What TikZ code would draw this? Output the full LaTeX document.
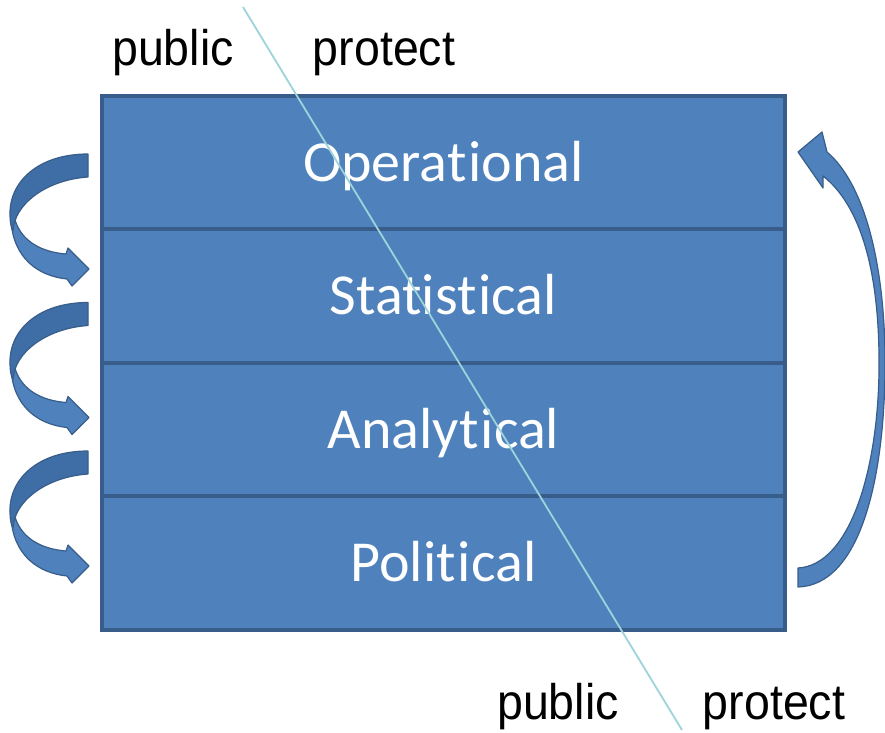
\documentclass[tikz,border=0pt]{standalone}
\usepackage{fontspec}
\setmainfont{Carlito}[RawFeature={-liga;-clig;-dlig;-calt}]
\newfontfamily\arialfont{Liberation Sans}
\newcommand{\tiword}{t\kern2pt i}
\definecolor{boxfill}{HTML}{4F81BD}
\definecolor{boxline}{HTML}{385D8A}
\definecolor{darkband}{HTML}{3F6DA6}
\definecolor{diag}{HTML}{9DD3DA}
\begin{document}
\begin{tikzpicture}[x=1pt,y=-1pt,
  layer/.style={draw=boxline, line width=4pt, fill=boxfill, minimum width=683pt,
    minimum height=133.4pt, inner sep=0pt, outer sep=0pt, text=white,
    text height=37pt, text depth=0pt, font=\fontsize{58}{60}\selectfont},
  lbl/.style={anchor=base, inner sep=0pt, font=\arialfont\fontsize{50}{54}\selectfont},
  arr/.style={fill=boxfill, draw=boxline, line width=1.2pt, line join=round},
  arrdark/.style={fill=darkband, draw=boxline, line width=1.2pt, line join=round},
  diagline/.style={draw=diag, line width=1.8pt}]
\useasboundingbox (0,0) rectangle (885,732);

% stacked layers
\node[layer] (op) at (443.5,162.7) {Opera\tiword onal};
\node[layer] (st) at (443.5,296.1) {Statis\tiword cal};
\node[layer] (an) at (443.5,429.5) {Analy\tiword cal};
\node[layer] (po) at (443.5,562.9) {Poli\tiword cal};

% left curved arrows
\foreach \dy in {0,148.5,297}{
  \begin{scope}[shift={(0,\dy)}]
    \path[arr] (11,220) .. controls (13,258) and (38,276) .. (67,279)
      -- (72,286) -- (89,269) -- (68,248) -- (66,254)
      .. controls (42,252) and (22,242) .. (15,220) -- cycle;
    \path[arrdark] (88,154) .. controls (38,154) and (9,182) .. (10,215)
      .. controls (10,222) and (11,227) .. (13,231)
      .. controls (14,205) and (45,180) .. (88,177) -- cycle;
  \end{scope}
}

% right curved arrow
\path[arr] (798,568) .. controls (850,565) and (878,470) .. (879,370)
  .. controls (880,270) and (860,205) .. (823,176)
  -- (823,188) -- (798,152) -- (822,132) -- (827,152)
  .. controls (866,185) and (886,270) .. (885,370)
  .. controls (884,480) and (860,585) .. (798,587) -- cycle;

% labels
\node[lbl] (pubtop) at (173,65) {\scalebox{0.93}[1]{public}};
\node[lbl] (prottop) at (384,65) {\scalebox{0.93}[1]{protect}};
\node[lbl] (pubbot) at (558,719) {\scalebox{0.93}[1]{public}};
\node[lbl] (protbot) at (774,719) {\scalebox{0.93}[1]{protect}};

% diagonal divider
\coordinate (dtop) at (243,7);
\coordinate (dbot) at (682,730);
\draw[diagline] (dtop) -- (dbot);
\end{tikzpicture}
\end{document}
